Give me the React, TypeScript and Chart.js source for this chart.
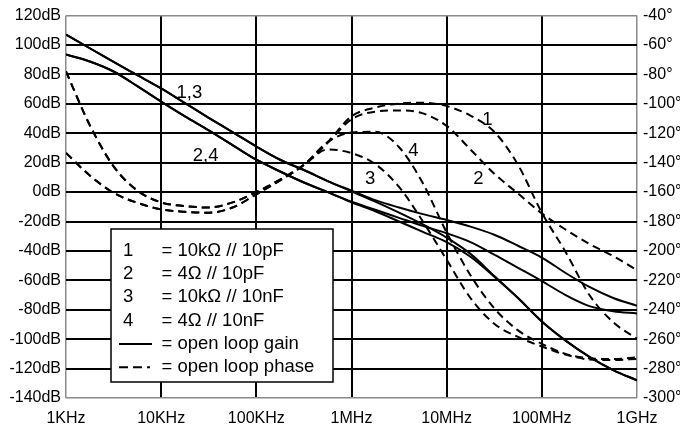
import React, { useEffect, useRef } from "react";
import { Chart, registerables } from "chart.js";

Chart.register(...registerables);

// Frequencies (Hz), quarter-decade steps from 1 kHz to 1 GHz
const freqs = [
  1e3, 1.778e3, 3.162e3, 5.623e3, 1e4, 1.778e4, 3.162e4, 5.623e4, 1e5, 1.778e5,
  3.162e5, 5.623e5, 1e6, 1.778e6, 3.162e6, 5.623e6, 1e7, 1.778e7, 3.162e7, 5.623e7,
  1e8, 1.778e8, 3.162e8, 5.623e8, 1e9,
];

const decadeTicks = [1e3, 1e4, 1e5, 1e6, 1e7, 1e8, 1e9];
const freqLabels = ["1KHz", "10KHz", "100KHz", "1MHz", "10MHz", "100MHz", "1GHz"];

// Open loop gain (dB)
const gain1 = [107, 97.8, 88.5, 79.5, 70.5, 60.5, 50.5, 40.8, 31, 22, 15, 7.5, 1, -5.5, -10.5, -15, -19, -23.5, -29, -36.5, -44.5, -55, -64.5, -72, -77.3];
const gain2 = [93.5, 88.8, 82, 72, 61.5, 51.5, 42, 32, 22, 14, 6.5, 0, -6.5, -12, -17.5, -23, -28, -34, -42.5, -51.5, -60.5, -70, -77.5, -81, -82.5];
const gain3 = [107, 97.8, 88.5, 79.5, 70.5, 60.5, 50.5, 40.8, 31, 22, 15, 7.5, 0.5, -6.5, -14, -22, -31, -42, -57, -72, -88, -101, -112, -121, -128];
const gain4 = [93.5, 88.8, 82, 72, 61.5, 51.5, 42, 32, 22, 14, 6.5, 0, -7, -13, -20, -27, -34, -44, -57.5, -72, -88, -101, -112, -121, -128];

// Open loop phase (degrees)
const phase1 = [-78, -114.5, -142.5, -159, -167, -169.5, -170.5, -167, -160, -151.5, -141.5, -126, -108.5, -102.5, -99.8, -99.2, -101.5, -108, -119, -141.5, -174, -200.7, -230, -248.5, -259.7];
const phase2 = [-133.4, -148.7, -160.5, -167.3, -171.7, -173.4, -174, -170.5, -161.5, -152, -141.5, -126.5, -110.5, -105.3, -104.5, -106.5, -115, -131, -147.5, -161, -174.5, -185.5, -195.3, -203.5, -213];
const phase3 = [-78, -114.5, -142.5, -159, -167, -169.5, -170.5, -167, -160, -151.5, -141.5, -131, -133.5, -141, -156.5, -180, -206, -232, -249.5, -258.5, -265, -270.5, -273.8, -274.2, -273.4];
const phase4 = [-133.4, -148.7, -160.5, -167.3, -171.7, -173.4, -174, -170.5, -161.5, -152, -141.5, -126, -119.5, -119, -129.5, -154, -187.5, -216.5, -239, -254, -263.2, -270, -273, -273.5, -272.3];

const legendNumbers = ["1", "2", "3", "4"];
const legendTexts = ["= 10kΩ // 10pF", "= 4Ω // 10pF", "= 10kΩ // 10nF", "= 4Ω // 10nF"];
const legendGain = "= open loop gain";
const legendPhase = "= open loop phase";

// curve annotations: frequency (left edge of text) and dB level (text baseline)
const curveLabels = [
  { text: "1,3", f: 1.45e4, v: 63.9 },
  { text: "2,4", f: 2.15e4, v: 21 },
  { text: "1", f: 2.37e7, v: 45.9 },
  { text: "2", f: 1.9e7, v: 5.6 },
  { text: "3", f: 1.39e6, v: 5.6 },
  { text: "4", f: 3.94e6, v: 24.4 },
];

const FONT = "'Liberation Sans', Arial, Helvetica, sans-serif";

const toXY = (ys: number[]) => ys.map((y, i) => ({ x: freqs[i], y }));

const overlayPlugin = {
  id: "overlay",
  beforeDraw(chart: any) {
    const { ctx } = chart;
    ctx.save();
    ctx.fillStyle = "#fff";
    ctx.fillRect(0, 0, chart.width, chart.height);
    ctx.restore();
  },
  afterDatasetsDraw(chart: any) {
    const { ctx } = chart;
    const xs = chart.scales.x;
    const yl = chart.scales.y;
    ctx.save();
    ctx.fillStyle = "#000";
    ctx.font = `18.5px ${FONT}`;
    ctx.textBaseline = "alphabetic";
    ctx.textAlign = "left";
    curveLabels.forEach((l) => {
      ctx.fillText(l.text, xs.getPixelForValue(l.f), yl.getPixelForValue(l.v));
    });

    // legend box
    const bx = 111, by = 229, bw = 222, bh = 153;
    ctx.fillStyle = "#fff";
    ctx.fillRect(bx, by, bw, bh);
    ctx.strokeStyle = "#000";
    ctx.lineWidth = 1.5;
    ctx.strokeRect(bx, by, bw, bh);
    ctx.fillStyle = "#000";
    const rowH = 23.3;
    const base0 = 255.7;
    legendNumbers.forEach((n, i) => {
      ctx.fillText(n, 123, base0 + rowH * i);
      ctx.fillText(legendTexts[i], 161.5, base0 + rowH * i);
    });
    ctx.fillText(legendGain, 161.5, base0 + rowH * 4);
    ctx.fillText(legendPhase, 161.5, base0 + rowH * 5);
    const ly1 = base0 + rowH * 4 - 5;
    ctx.lineWidth = 2;
    ctx.beginPath();
    ctx.moveTo(119, ly1);
    ctx.lineTo(152, ly1);
    ctx.stroke();
    const ly2 = base0 + rowH * 5 - 5;
    ctx.setLineDash([9, 5]);
    ctx.beginPath();
    ctx.moveTo(119, ly2);
    ctx.lineTo(150, ly2);
    ctx.stroke();
    ctx.restore();
  },
};

const edgeColor = "#8a8a8a";

export default function App() {
  const ref = useRef<HTMLCanvasElement | null>(null);

  useEffect(() => {
    if (!ref.current) return;
    const solid = (data: number[]) => ({
      data: toXY(data),
      yAxisID: "y",
      borderColor: "#000",
      borderWidth: 2,
      pointRadius: 0,
      fill: false,
      cubicInterpolationMode: "monotone" as const,
    });
    const dashed = (data: number[]) => ({
      data: toXY(data),
      yAxisID: "y1",
      borderColor: "#000",
      borderWidth: 2,
      borderDash: [8, 5],
      pointRadius: 0,
      fill: false,
      cubicInterpolationMode: "monotone" as const,
    });
    const chart = new Chart(ref.current, {
      type: "line",
      data: {
        datasets: [
          solid(gain1), solid(gain2), solid(gain3), solid(gain4),
          dashed(phase1), dashed(phase2), dashed(phase3), dashed(phase4),
        ],
      },
      options: {
        animation: false,
        responsive: false,
        layout: { padding: { top: 14, left: 0, right: 0, bottom: 0 } },
        plugins: { legend: { display: false }, tooltip: { enabled: false } },
        events: [],
        scales: {
          x: {
            type: "logarithmic",
            min: 1e3,
            max: 1e9,
            afterBuildTicks: (axis: any) => {
              axis.ticks = decadeTicks.map((v) => ({ value: v }));
            },
            afterFit: (s: any) => { s.height = 30; },
            border: { display: false },
            grid: {
              drawTicks: false,
              color: (c: any) => (c.index === 0 || c.index === decadeTicks.length - 1 ? edgeColor : "#000"),
              lineWidth: (c: any) => (c.index === 0 || c.index === decadeTicks.length - 1 ? 1.5 : 2),
            },
            ticks: {
              autoSkip: false,
              maxRotation: 0,
              padding: 11,
              color: "#000",
              font: { family: FONT, size: 16 },
              callback: (_v: any, i: number) => freqLabels[i],
            },
          },
          y: {
            position: "left",
            min: -140,
            max: 120,
            afterFit: (s: any) => { s.width = 66; },
            border: { display: false },
            grid: {
              drawTicks: false,
              color: (c: any) => (c.tick && (c.tick.value === 120 || c.tick.value === -140) ? edgeColor : "#000"),
              lineWidth: (c: any) => (c.tick && (c.tick.value === 120 || c.tick.value === -140) ? 1.5 : 2),
            },
            ticks: {
              stepSize: 20,
              padding: 5,
              color: "#000",
              font: { family: FONT, size: 16 },
              callback: (v: any) => `${v}dB`,
            },
          },
          y1: {
            position: "right",
            min: -300,
            max: -40,
            afterFit: (s: any) => { s.width = 43; },
            border: { display: false },
            grid: { display: false, drawTicks: false },
            ticks: {
              stepSize: 20,
              padding: 6,
              color: "#000",
              font: { family: FONT, size: 16 },
              callback: (v: any) => `${v}°`,
            },
          },
        },
      },
      plugins: [overlayPlugin],
    } as any);
    return () => chart.destroy();
  }, []);

  return (
    <div style={{ position: "fixed", left: 0, top: 0, width: 680, height: 428, background: "#fff" }}>
      <canvas ref={ref} width={680} height={428} style={{ display: "block", width: 680, height: 428 }} />
    </div>
  );
}
